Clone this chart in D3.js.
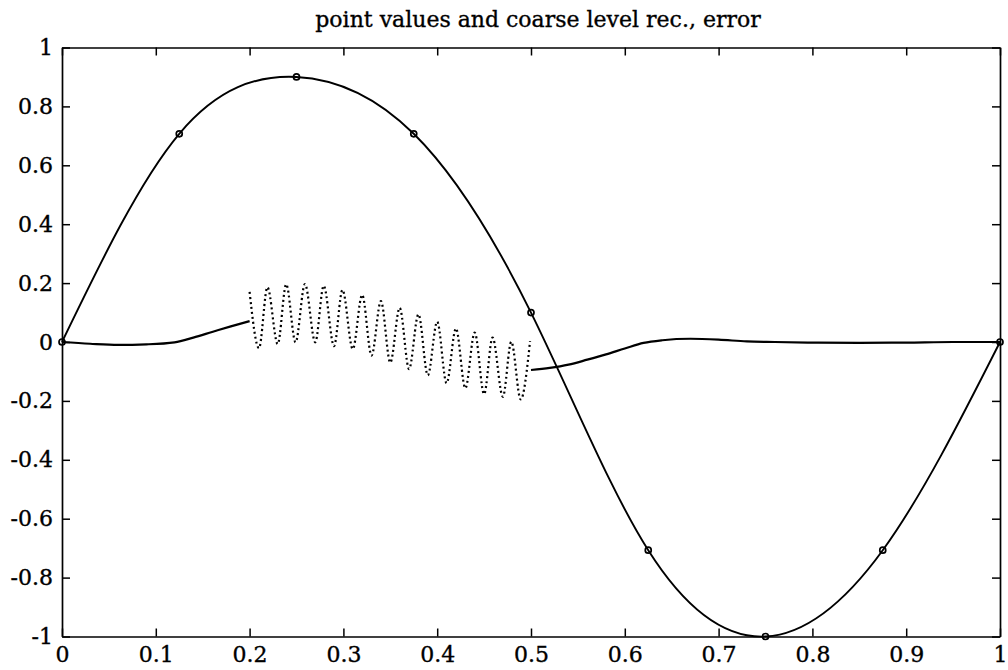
<!DOCTYPE html>
<html>
<head>
<meta charset="utf-8">
<script src="https://cdn.jsdelivr.net/npm/d3@7"></script>
<style>
  html, body { margin: 0; padding: 0; background: #fff; }
  svg { display: block; }
  text { font-family: "DejaVu Serif", "Liberation Serif", serif; fill: #000; }
</style>
</head>
<body>
<svg id="chart" width="1008" height="670"></svg>
<script>
// Coarse-level point values (markers) and their smooth reconstruction
const pointX = [0, 0.125, 0.25, 0.375, 0.5, 0.625, 0.75, 0.875, 1];
const pointY = [0, 0.707, 0.9, 0.707, 0.1, -0.707, -1, -0.707, 0];

// Error, solid part on [0, 0.2]
const errLeftX = [0, 0.03, 0.06, 0.09, 0.12, 0.14, 0.16, 0.18, 0.2];
const errLeftY = [0, -0.006, -0.01, -0.008, -0.001, 0.015, 0.034, 0.053, 0.071];

// Error, oscillating part on [0.2, 0.5] (successive crests and troughs)
const errOscX = [0.200, 0.210, 0.219, 0.230, 0.239, 0.249, 0.259, 0.270, 0.279, 0.290,
                 0.299, 0.310, 0.320, 0.330, 0.340, 0.350, 0.360, 0.370, 0.380, 0.390,
                 0.400, 0.410, 0.420, 0.430, 0.440, 0.450, 0.459, 0.470, 0.479, 0.489, 0.499];
const errOscY = [0.170, -0.021, 0.186, -0.007, 0.196, -0.001, 0.197, -0.001, 0.191, -0.014,
                 0.177, -0.024, 0.160, -0.046, 0.139, -0.070, 0.116, -0.092, 0.094, -0.113,
                 0.069, -0.140, 0.046, -0.157, 0.032, -0.177, 0.015, -0.186, 0.001, -0.195, 0.003];

// Error, solid part on [0.5, 1]
const errRightX = [0.50, 0.52, 0.54, 0.56, 0.58, 0.60, 0.62, 0.64, 0.67, 0.70, 0.73, 0.76, 0.80, 0.85, 0.90, 0.95, 1.0];
const errRightY = [-0.095, -0.088, -0.077, -0.060, -0.042, -0.022, -0.003, 0.006, 0.011, 0.008, 0.002, 0.0, -0.002, -0.003, -0.002, 0.0, 0.0];

const xTicks = [0, 0.1, 0.2, 0.3, 0.4, 0.5, 0.6, 0.7, 0.8, 0.9, 1];
const xTickLabels = ["0", "0.1", "0.2", "0.3", "0.4", "0.5", "0.6", "0.7", "0.8", "0.9", "1"];
const yTicks = [-1, -0.8, -0.6, -0.4, -0.2, 0, 0.2, 0.4, 0.6, 0.8, 1];
const yTickLabels = ["-1", "-0.8", "-0.6", "-0.4", "-0.2", "0", "0.2", "0.4", "0.6", "0.8", "1"];

const titleText = "point values and coarse level rec., error";

const svg = d3.select("#chart");
const plotLeft = 62, plotRight = 1000, plotTop = 47.5, plotBottom = 636.5;

const x = d3.scaleLinear().domain([0, 1]).range([plotLeft, plotRight]);
const y = d3.scaleLinear().domain([-1, 1]).range([plotBottom, plotTop]);

const zip = (xs, ys) => xs.map((v, i) => [v, ys[i]]);

// Axes: box with inward ticks on all four sides
function styleAxis(g) {
  g.select(".domain").attr("stroke", "#000").attr("stroke-width", 1.7);
  g.selectAll(".tick line").attr("stroke", "#000").attr("stroke-width", 1.5);
  g.selectAll(".tick text")
    .style("font-family", "DejaVu Serif, serif")
    .style("font-size", "22px")
    .attr("fill", "#000")
    .attr("stroke", "#000")
    .attr("stroke-width", 0.35);
}

svg.append("g")
  .attr("transform", `translate(0,${plotBottom})`)
  .call(d3.axisBottom(x).tickValues(xTicks).tickFormat((d, i) => xTickLabels[i])
    .tickSizeInner(-8).tickSizeOuter(0).tickPadding(10))
  .call(styleAxis);

svg.append("g")
  .attr("transform", `translate(0,${plotTop})`)
  .call(d3.axisTop(x).tickValues(xTicks).tickFormat("")
    .tickSizeInner(-8).tickSizeOuter(0))
  .call(styleAxis);

svg.append("g")
  .attr("transform", `translate(${plotLeft},0)`)
  .call(d3.axisLeft(y).tickValues(yTicks).tickFormat((d, i) => yTickLabels[i])
    .tickSizeInner(-8).tickSizeOuter(0).tickPadding(9))
  .call(styleAxis);

svg.append("g")
  .attr("transform", `translate(${plotRight},0)`)
  .call(d3.axisRight(y).tickValues(yTicks).tickFormat("")
    .tickSizeInner(-8).tickSizeOuter(0))
  .call(styleAxis);

// Title
svg.append("text")
  .attr("x", 538)
  .attr("y", 27)
  .attr("text-anchor", "middle")
  .style("font-size", "22px")
  .attr("stroke", "#000")
  .attr("stroke-width", 0.35)
  .text(titleText);

const plot = svg.append("g");

// Coarse-level reconstruction through the point values
plot.append("path")
  .datum(zip(pointX, pointY))
  .attr("fill", "none")
  .attr("stroke", "#000")
  .attr("stroke-width", 1.9)
  .attr("d", d3.line().x(d => x(d[0])).y(d => y(d[1])).curve(d3.curveNatural));

// Error curves
const errLine = d3.line().x(d => x(d[0])).y(d => y(d[1])).curve(d3.curveMonotoneX);
plot.append("path")
  .datum(zip(errLeftX, errLeftY))
  .attr("fill", "none").attr("stroke", "#000").attr("stroke-width", 2.2)
  .attr("d", errLine);

plot.append("path")
  .datum(zip(errOscX, errOscY))
  .attr("fill", "none").attr("stroke", "#000").attr("stroke-width", 2.2)
  .attr("stroke-dasharray", "2,3")
  .attr("d", errLine);

plot.append("path")
  .datum(zip(errRightX, errRightY))
  .attr("fill", "none").attr("stroke", "#000").attr("stroke-width", 2.2)
  .attr("d", errLine);

// Point value markers
plot.selectAll("circle.pt")
  .data(zip(pointX, pointY))
  .join("circle")
  .attr("class", "pt")
  .attr("cx", d => x(d[0]))
  .attr("cy", d => y(d[1]))
  .attr("r", 3)
  .attr("fill", "none")
  .attr("stroke", "#000")
  .attr("stroke-width", 1.7);
</script>
</body>
</html>
